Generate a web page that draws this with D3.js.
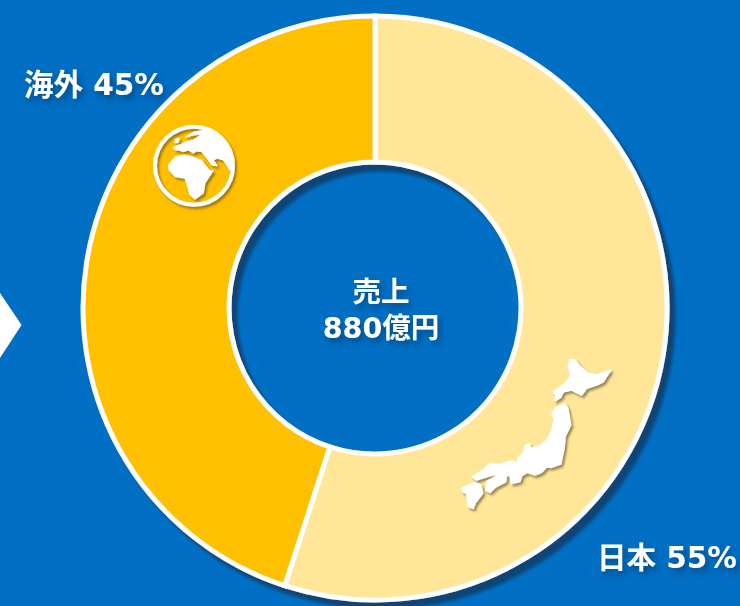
<!DOCTYPE html>
<html lang="ja">
<head>
<meta charset="utf-8">
<script src="https://cdn.jsdelivr.net/npm/d3@7"></script>
<style>
    html, body { margin: 0; padding: 0; background: #006fc4; overflow: hidden; }
    svg { display: block; }
    text { font-family: "DejaVu Sans", "Noto Sans CJK JP", sans-serif; font-weight: 700; fill: #fff; }
</style>
</head>
<body>
<div id="chart"></div>
<script>
// --- Data ---
const categories = ["日本", "海外"];
const shares = [55, 45];
const centerLines = ["売上", "880億円"];

// Icon outlines (local icon coordinates)
const hokkaido = [[390,58],[405,60],[420,80],[445,100],[470,105],[512,90],[490,125],[470,135],[440,145],[425,165],[395,150],[370,155],[362,172],[345,182],[348,165],[340,155],[355,145],[375,130],[392,110],[385,80]];
const honshu = [[345,205],[375,192],[383,205],[392,255],[375,290],[372,325],[362,372],[335,382],[320,380],[305,397],[285,405],[262,397],[245,407],[240,424],[215,430],[210,407],[180,402],[150,407],[110,420],[98,410],[130,390],[150,370],[180,373],[215,363],[232,368],[235,353],[250,338],[255,318],[268,313],[272,326],[300,318],[323,298],[336,270],[343,240],[336,220]];
const shikoku = [[140,425],[175,406],[200,406],[197,425],[165,442],[150,457],[138,450]];
const kyushu = [[65,445],[100,428],[122,435],[128,460],[105,490],[100,505],[85,500],[80,460],[68,455]];
const africa = [[115,195],[135,170],[165,165],[190,172],[215,180],[225,195],[240,212],[250,212],[235,235],[225,250],[220,280],[195,298],[180,285],[170,250],[165,235],[135,230],[118,212]];
const eurasia = [[135,150],[130,142],[155,132],[165,125],[190,120],[215,103],[190,105],[165,112],[190,97],[215,92],[240,88],[280,100],[320,150],[320,190],[300,212],[290,195],[280,180],[262,175],[250,180],[262,198],[245,195],[235,180],[222,165],[215,155],[200,153],[190,160],[175,150],[160,155],[145,150]];
const britain = [[135,118],[148,115],[145,128],[135,128]];

// --- Layout ---
const width = 740, height = 606;
const cx = 375, cy = 308;
const outerRadius = 292, innerRadius = 146;

const svg = d3.select("#chart").append("svg")
    .attr("width", width)
    .attr("height", height);

const defs = svg.append("defs");

function addShadow(id, dx, dy, blur, color, opacity) {
    defs.append("filter")
        .attr("id", id)
        .attr("x", "-20%").attr("y", "-20%")
        .attr("width", "150%").attr("height", "150%")
      .append("feDropShadow")
        .attr("dx", dx).attr("dy", dy)
        .attr("stdDeviation", blur)
        .attr("flood-color", color)
        .attr("flood-opacity", opacity);
}
addShadow("ring-shadow", 6, 7, 1.5, "#0b4478", 1);
addShadow("icon-shadow", 6, 7, 3, "#5a4a20", 0.6);
addShadow("text-shadow", 3, 4, 3, "#06365f", 0.6);

svg.append("rect")
    .attr("width", width)
    .attr("height", height)
    .attr("fill", "#006fc4");

// Arrow coming in from the left edge
svg.append("path")
    .attr("d", "M0,293L21.5,325L0,358Z")
    .attr("fill", "#fff");

// --- Donut ---
const color = d3.scaleOrdinal()
    .domain(categories)
    .range(["#ffe699", "#ffc000"]);

const pie = d3.pie().sort(null)(shares);
const arc = d3.arc().innerRadius(innerRadius).outerRadius(outerRadius);

svg.append("g")
    .attr("transform", `translate(${cx},${cy})`)
    .attr("filter", "url(#ring-shadow)")
    .selectAll("path")
    .data(pie)
    .enter().append("path")
    .attr("d", arc)
    .attr("fill", (d, i) => color(categories[i]))
    .attr("stroke", "#fff")
    .attr("stroke-width", 5);

// --- Icons ---
const blob = d3.line().curve(d3.curveLinearClosed);

// Traced at 3x, so scale back down
const japan = svg.append("g")
    .attr("transform", "translate(440,340) scale(0.3333)")
    .attr("filter", "url(#icon-shadow)")
    .attr("fill", "#fff")
    .attr("stroke", "#fff")
    .attr("stroke-width", 5)
    .attr("stroke-linejoin", "round");
[hokkaido, honshu, shikoku, kyushu].forEach(shape => {
    japan.append("path").attr("d", blob(shape));
});

defs.append("clipPath")
    .attr("id", "globe-clip")
  .append("circle")
    .attr("cx", 192).attr("cy", 197).attr("r", 116);

const globe = svg.append("g")
    .attr("transform", "translate(130,100) scale(0.3333)")
    .attr("filter", "url(#icon-shadow)");
globe.append("circle")
    .attr("cx", 192).attr("cy", 197).attr("r", 117)
    .attr("fill", "none")
    .attr("stroke", "#fff")
    .attr("stroke-width", 12);
const land = globe.append("g")
    .attr("clip-path", "url(#globe-clip)")
    .attr("fill", "#fff")
    .attr("stroke", "#fff")
    .attr("stroke-width", 3)
    .attr("stroke-linejoin", "round");
[africa, eurasia, britain].forEach(shape => {
    land.append("path").attr("d", blob(shape));
});

// --- Labels ---
const labels = svg.append("g").attr("filter", "url(#text-shadow)");

labels.append("text")
    .attr("x", 24).attr("y", 95)
    .attr("font-size", 29.5)
    .text(`${categories[1]} ${shares[1]}%`);

labels.append("text")
    .attr("x", 597).attr("y", 568)
    .attr("font-size", 29.5)
    .text(`${categories[0]} ${shares[0]}%`);

labels.selectAll(".center")
    .data(centerLines)
    .enter().append("text")
    .attr("class", "center")
    .attr("x", 381)
    .attr("y", (d, i) => 302 + i * 36)
    .attr("text-anchor", "middle")
    .attr("font-size", 28.5)
    .text(d => d);
</script>
</body>
</html>
